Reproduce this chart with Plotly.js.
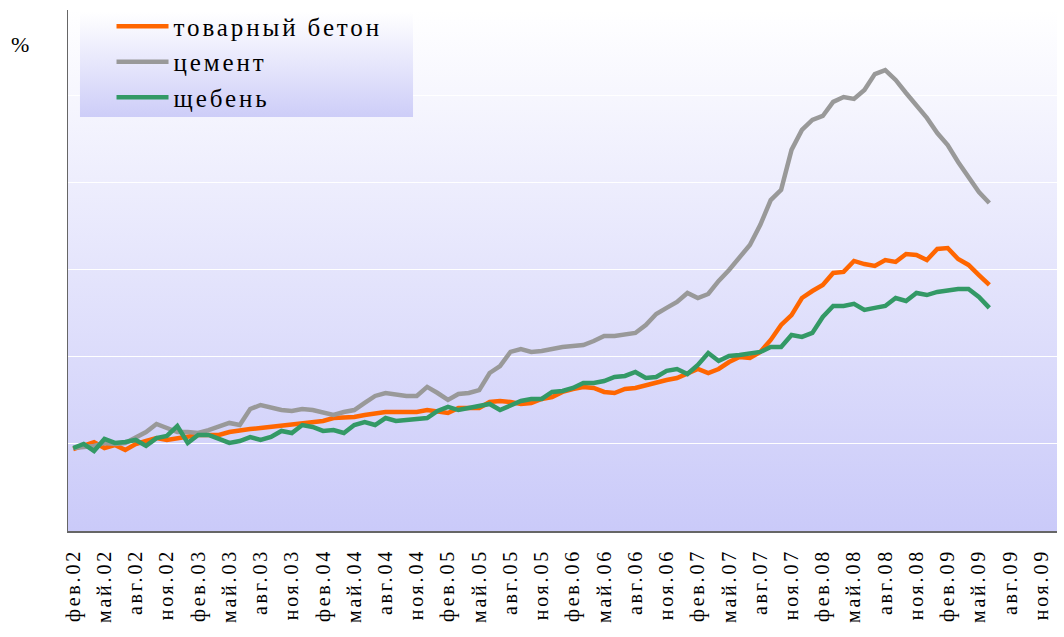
<!DOCTYPE html>
<html>
<head>
<meta charset="utf-8">
<script src="https://cdn.plot.ly/plotly-3.0.1.min.js"></script>
<style>
html,body{margin:0;padding:0;background:#fff;}
#chart{width:1064px;height:637px;}
.xtick text{letter-spacing:2.8px;}
.legendtext{letter-spacing:2.9px;}
</style>
</head>
<body>
<div id="chart"></div>
<script>
// Month names and years for the category axis (фев.02 … дек.09)
var monthNames = ['янв','фев','мар','апр','май','июн','июл','авг','сен','окт','ноя','дек'];
var years = ['02','03','04','05','06','07','08','09'];
var categories = [];
years.forEach(function(y){ monthNames.forEach(function(m){ categories.push(m + '.' + y); }); });
categories = categories.slice(1); // starts at фев.02

// Tick labels: every third month
var tickLabels = categories.filter(function(c, i){ return i % 3 === 0; });

var seriesNames = ['товарный бетон', 'цемент', 'щебень'];

var concrete = [97.1,98.9,101.1,97.7,99.4,96.6,100.0,101.7,103.4,102.3,103.4,104.6,105.2,105.2,105.2,106.9,
108.0,108.6,109.2,109.8,110.9,111.5,112.1,112.6,113.2,114.9,114.9,115.5,116.7,117.8,118.4,118.4,118.4,118.4,
119.5,118.4,117.8,120.7,120.7,120.7,124.1,124.7,124.1,123.0,123.6,125.9,127.0,129.9,131.6,132.8,132.2,129.9,
129.3,131.6,132.2,133.9,135.1,136.8,137.9,140.8,143.1,140.8,143.1,147.1,150.0,149.4,152.9,159.8,168.4,174.1,
183.9,187.9,191.4,198.3,198.9,205.2,203.4,202.3,205.7,204.6,209.2,208.6,205.7,212.1,212.6,206.3,202.9,197.1,191.4];

var cement = [97.7,98.3,98.9,100.6,100.0,100.6,104.0,106.9,111.5,109.2,106.9,106.9,106.3,108.0,109.8,112.1,
110.9,120.1,122.4,120.7,119.5,119.0,120.1,119.5,118.4,116.7,118.4,119.5,123.6,127.6,129.3,128.2,127.6,127.6,
132.8,129.3,125.3,128.7,129.3,131.0,140.8,144.8,152.9,154.6,152.9,153.4,154.6,155.7,156.3,156.9,159.2,162.1,
162.1,163.2,163.8,168.4,174.7,178.2,181.6,186.8,183.9,186.2,193.7,200.0,206.9,214.4,225.9,240.2,246.0,269.0,
280.5,286.2,288.5,296.6,299.4,298.3,303.4,312.6,314.9,309.2,301.7,294.3,287.4,278.7,271.8,262.1,252.9,244.8,238.5];

var gravel = [97.7,100.0,96.0,102.9,100.6,101.1,102.3,98.9,103.4,104.6,110.3,100.6,105.2,105.2,102.9,100.6,
101.7,104.0,102.3,104.0,107.5,106.3,110.9,109.8,107.5,108.0,106.3,110.9,112.6,110.9,114.9,113.2,113.8,114.4,
114.9,119.0,121.3,119.5,120.7,121.8,123.0,119.5,122.4,124.7,125.9,125.9,129.9,130.5,132.2,135.1,135.1,136.2,
138.5,139.1,141.4,137.9,138.5,142.0,143.1,140.2,145.4,152.3,147.7,150.6,151.1,151.7,152.9,155.7,155.7,162.6,
161.5,163.8,173.0,179.3,179.3,180.5,177.0,178.2,179.3,183.9,182.2,186.8,185.6,187.4,188.5,189.1,189.1,184.5,178.2];

var colors = ['#ff6600', '#999999', '#339966'];
var values = [concrete, cement, gravel];

function gradientSvg(c1, c2){
  var svg = "<svg xmlns='http://www.w3.org/2000/svg' width='10' height='100' preserveAspectRatio='none'>" +
    "<defs><linearGradient id='g' x1='0' y1='0' x2='0' y2='1'>" +
    "<stop offset='0' stop-color='" + c1 + "'/><stop offset='1' stop-color='" + c2 + "'/>" +
    "</linearGradient></defs><rect width='10' height='100' fill='url(#g)'/></svg>";
  return 'data:image/svg+xml;charset=utf-8,' + encodeURIComponent(svg);
}

var traces = values.map(function(v, k){
  return {
    type: 'scatter', mode: 'lines',
    name: seriesNames[k],
    x: categories.slice(0, v.length),
    y: v,
    line: {color: colors[k], width: 4.5, shape: 'linear'},
    hoverinfo: 'x+y+name'
  };
});

var serif = 'Liberation Serif';

var layout = {
  width: 1064, height: 637,
  margin: {l: 68, r: 7, t: 10, b: 106, pad: 0, autoexpand: false},
  paper_bgcolor: '#ffffff',
  plot_bgcolor: 'rgba(0,0,0,0)',
  showlegend: true,
  legend: {
    x: 0.044, y: 1.0125, xanchor: 'left', yanchor: 'top',
    bgcolor: 'rgba(0,0,0,0)', borderwidth: 0,
    font: {family: serif, size: 25, color: '#000'},
    itemwidth: 52,
    tracegroupgap: 0
  },
  xaxis: {
    type: 'category',
    categoryorder: 'array', categoryarray: categories,
    range: [-0.5, categories.length - 0.5],
    tickmode: 'array', tickvals: tickLabels, ticktext: tickLabels,
    tickangle: -90,
    ticks: 'outside', ticklen: 8, tickcolor: 'rgba(0,0,0,0)',
    tickfont: {family: serif, size: 20, color: '#000'},
    showgrid: false, zeroline: false,
    showline: true, linecolor: '#666666', linewidth: 2,
    fixedrange: true
  },
  yaxis: {
    range: [50, 349.4],
    dtick: 50, tick0: 0,
    showticklabels: false, ticks: '',
    showgrid: true, gridcolor: '#ffffff', gridwidth: 1,
    zeroline: false,
    showline: true, linecolor: '#666666', linewidth: 1.5,
    fixedrange: true
  },
  images: [
    {source: gradientSvg('#ffffff', '#cacaf9'), xref: 'paper', yref: 'paper',
     x: 0, y: 1, sizex: 1, sizey: 1, xanchor: 'left', yanchor: 'top',
     sizing: 'stretch', layer: 'below'},
    {source: gradientSvg('#ffffff', '#cdcdf8'), xref: 'paper', yref: 'paper',
     x: 0.012, y: 0.996, sizex: 0.337, sizey: 0.2015, xanchor: 'left', yanchor: 'top',
     sizing: 'stretch', layer: 'above'}
  ],
  annotations: [
    {text: '%', xref: 'paper', yref: 'paper', x: -0.0485, y: 0.933,
     xanchor: 'center', yanchor: 'middle', showarrow: false,
     font: {family: serif, size: 22, color: '#000'}}
  ]
};

Plotly.newPlot('chart', traces, layout, {displayModeBar: false, staticPlot: true});
</script>
</body>
</html>
